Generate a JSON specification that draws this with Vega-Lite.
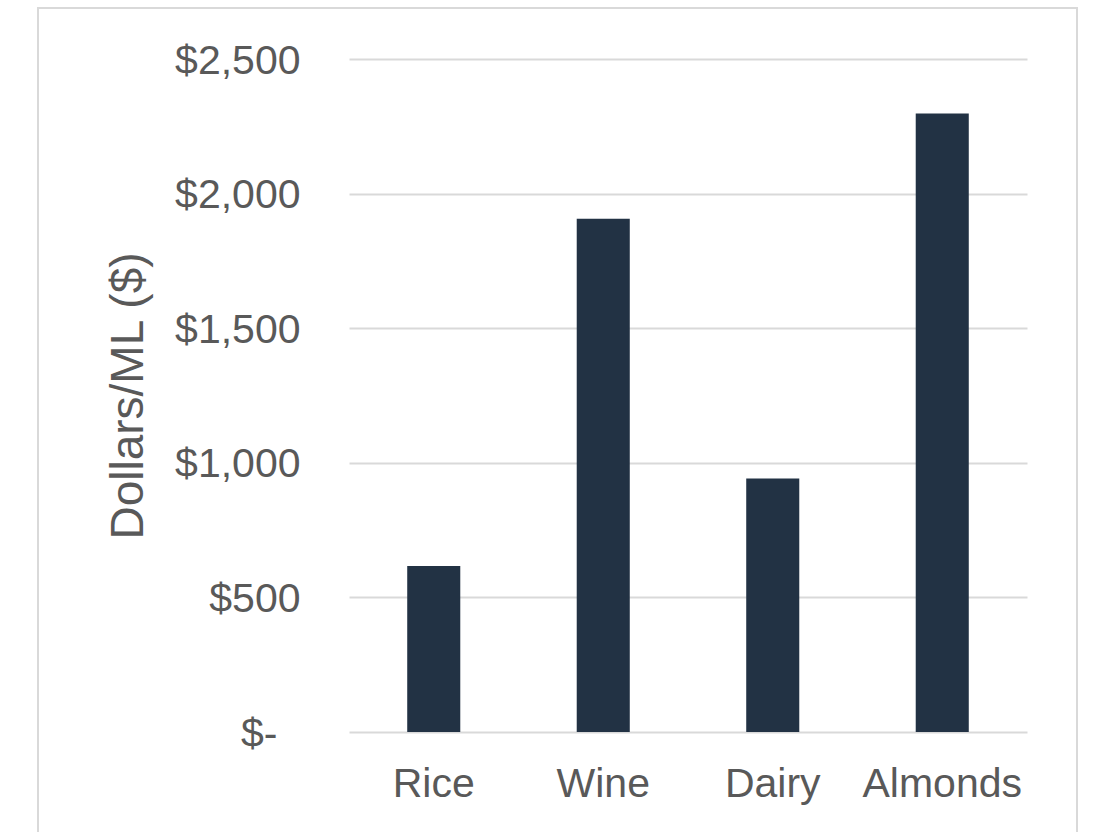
{
  "$schema": "https://vega.github.io/schema/vega-lite/v6.json",
  "autosize": {"type": "none"},
  "padding": {"left": 38, "top": 8, "right": 18, "bottom": 0},
  "width": 1039,
  "height": 825,
  "background": "white",
  "data": {
    "values": [
      {"crop": "Rice", "value": 617},
      {"crop": "Wine", "value": 1907},
      {"crop": "Dairy", "value": 942},
      {"crop": "Almonds", "value": 2298}
    ]
  },
  "mark": {"type": "bar", "color": "#223244"},
  "encoding": {
    "x": {
      "field": "crop",
      "type": "nominal",
      "sort": null,
      "scale": {"range": [311, 989], "paddingInner": 0.687, "paddingOuter": 0.3435},
      "axis": {
        "title": null,
        "labelAngle": 0,
        "domain": false,
        "ticks": false,
        "grid": false,
        "offset": -101,
        "labelPadding": 32,
        "labelFontSize": 41,
        "labelFont": "Liberation Sans",
        "labelColor": "#595959"
      }
    },
    "y": {
      "field": "value",
      "type": "quantitative",
      "scale": {"domain": [0, 2500], "range": [724, 51], "nice": false},
      "axis": {
        "title": "Dollars/ML ($)",
        "values": [0, 500, 1000, 1500, 2000, 2500],
        "labelExpr": "datum.value === 0 ? '$-' : '$' + format(datum.value, ',')",
        "domain": false,
        "ticks": false,
        "grid": true,
        "gridColor": "#d9d9d9",
        "gridWidth": 2,
        "offset": -311,
        "labelPadding": {"condition": {"test": "datum.value === 0", "value": 72}, "value": 49},
        "labelOffset": 2,
        "labelFontSize": 41,
        "labelFont": "Liberation Sans",
        "labelColor": "#595959",
        "titleFont": "Liberation Sans",
        "titleFontSize": 46,
        "titleFontWeight": "normal",
        "titleColor": "#595959",
        "titlePadding": 22
      }
    }
  },
  "config": {
    "view": {"stroke": "#d9d9d9", "strokeWidth": 2}
  }
}
